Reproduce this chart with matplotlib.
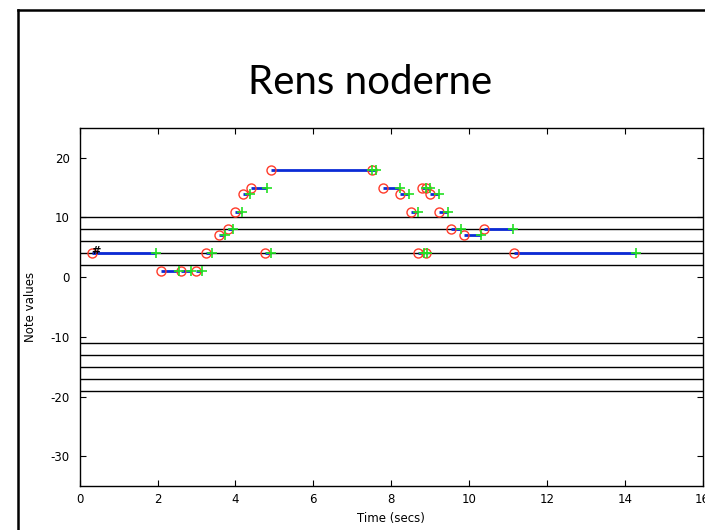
import numpy as np
import matplotlib.pyplot as plt
from matplotlib.lines import Line2D

# note data: pitch, onset (s), offset (s)
pitches = [4, 1, 1, 1, 4, 7, 8, 11, 14, 15, 4, 18, 18, 15, 14, 11, 4, 15, 4, 15, 14, 11, 8, 7, 8, 4]
onsets = [0.32, 2.09, 2.61, 2.99, 3.25, 3.59, 3.81, 3.98, 4.20, 4.39, 4.77, 4.91, 7.52, 7.80,
          8.24, 8.50, 8.69, 8.79, 8.89, 8.89, 8.99, 9.24, 9.55, 9.88, 10.39, 11.16]
offsets = [1.96, 2.54, 2.86, 3.14, 3.40, 3.74, 3.93, 4.17, 4.38, 4.80, 4.92, 7.50, 7.60, 8.22,
           8.46, 8.69, 8.85, 8.89, 8.93, 9.00, 9.22, 9.46, 9.79, 10.32, 11.14, 14.28]
staff_lines = [10, 8, 6, 4, 2, -11, -13, -15, -17, -19]
x_ticks = [0, 2, 4, 6, 8, 10, 12, 14, 16]
y_ticks = [-30, -20, -10, 0, 10, 20]

plt.rcParams['font.family'] = 'DejaVu Sans'
plt.rcParams['axes.unicode_minus'] = False
fig = plt.figure(figsize=(7.05, 5.30), dpi=100)

# slide frame
fig.add_artist(Line2D([18 / 705, 18 / 705], [0, 1 - 10 / 530], transform=fig.transFigure, color='black', lw=1.8))
fig.add_artist(Line2D([18 / 705, 1], [1 - 10 / 530, 1 - 10 / 530], transform=fig.transFigure, color='black', lw=1.8))
fig.text(370 / 705, 1 - 83 / 530, 'Rens noderne', ha='center', va='center', fontsize=29, family='Lato')

ax = fig.add_axes([0.113, 0.083, 0.8836, 0.6755])
for y in staff_lines:
    ax.axhline(y, color='black', lw=1.0)
for p, on, off in zip(pitches, onsets, offsets):
    ax.plot([on, off], [p, p], color='#0b2bd6', lw=2, solid_capstyle='butt')
ax.plot(onsets, pitches, 'o', mfc='none', mec='#ff3b2a', ms=6.5, mew=1)
ax.plot(offsets, pitches, '+', color='#22e022', ms=7.5, mew=1.2)
ax.text(0.41, 4.4, '#', fontsize=8, ha='center', va='center', fontweight='bold')

ax.set_xlim(0, 16)
ax.set_ylim(-35, 25)
ax.set_xticks(x_ticks)
ax.set_yticks(y_ticks)
ax.tick_params(direction='in', top=True, right=True, length=4, labelsize=8.5, width=0.8, pad=5)
ax.tick_params(axis='y', pad=7)
ax.set_xlabel('Time (secs)', fontsize=8.5, labelpad=4)
ax.set_ylabel('Note values', fontsize=8.5, labelpad=10)
for s in ax.spines.values():
    s.set_linewidth(1.0)

fig.savefig('out.png', dpi=100)
